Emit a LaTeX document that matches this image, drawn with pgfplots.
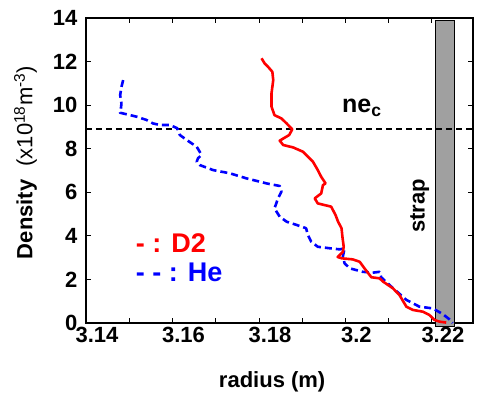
\documentclass[border=0pt]{standalone}
\usepackage{fontspec}
\setmainfont{Liberation Sans}
\usepackage{pgfplots}
\pgfplotsset{compat=1.18}
\definecolor{strapgray}{RGB}{160,160,160}
\begin{document}
\begin{tikzpicture}
\begin{axis}[
  scale only axis, width=387pt, height=305pt,
  at={(0,0)}, anchor=south west,
  xmin=3.14, xmax=3.2295, ymin=0, ymax=14,
  xtick={3.14,3.16,3.18,3.2,3.22},
  xticklabels={3.14,3.16,3.18,3.2,3.22},
  minor xtick={3.15,3.17,3.19,3.21},
  ytick={0,2,4,6,8,10,12,14},
  yticklabels={0,2,4,6,8,10,12,14},
  tick align=inside,
  major tick length=5pt, minor tick length=5pt,
  axis line style={line width=1.2pt},
  every tick/.style={line width=0.9pt, black},
  minor tick style={line width=0.9pt, black},
  ticklabel style={font=\fontsize{22}{25}\selectfont\bfseries},
  xticklabel style={xshift=11pt, yshift=-1pt},
  yticklabel style={xshift=-5pt},
  xlabel={\textbf{radius (m)}},
  xlabel style={font=\fontsize{22}{25}\selectfont, at={(axis description cs:0.481,-0.193)}, anchor=center},
  ylabel={\textbf{Density}\hspace{0.6em}(x10\textsuperscript{18}m\textsuperscript{-3})},
  ylabel style={font=\fontsize{22}{25}\selectfont, at={(axis description cs:-0.156,0.526)}, anchor=center},
  clip=false,
]
% strap
\addplot[draw=black, line width=1pt, fill=strapgray] coordinates {(3.2208,-0.14) (3.2252,-0.14) (3.2252,13.9) (3.2208,13.9)} -- cycle;
% critical density
\addplot[black, line width=2.2pt, dash pattern=on 6pt off 4pt] coordinates {(3.14,8.9) (3.2295,8.9)};
% He
\addplot[blue, line width=2.6pt, dash pattern=on 7pt off 4pt, line join=round] coordinates {
(3.1486,11.15) (3.1482,10.84) (3.1479,10.46) (3.1482,10.08) (3.1480,9.70) (3.1479,9.65)
(3.1494,9.58) (3.1517,9.47) (3.1540,9.32) (3.1555,9.16) (3.1571,9.09) (3.1594,9.09)
(3.1611,8.94) (3.1617,8.63) (3.1633,8.40) (3.1656,8.09) (3.1663,7.86) (3.1667,7.71)
(3.1659,7.56) (3.1656,7.40) (3.1663,7.25) (3.1694,7.02) (3.1733,6.87) (3.1771,6.64)
(3.1817,6.41) (3.1848,6.29) (3.1852,6.03) (3.1844,5.72) (3.1836,5.26) (3.1848,4.88)
(3.1864,4.65) (3.1887,4.50) (3.1909,4.35) (3.1913,4.04) (3.1921,3.73) (3.1936,3.50)
(3.1964,3.43) (3.1987,3.38) (3.1998,3.43) (3.1994,3.04) (3.1998,2.74) (3.2010,2.51)
(3.2040,2.35) (3.2063,2.31) (3.2079,2.35) (3.2083,2.09) (3.2106,1.67) (3.2141,1.06)
(3.2171,0.75) (3.2202,0.67) (3.2225,0.41) (3.2241,0.16) (3.2248,0.0)
};
% D2
\addplot[red, line width=2.6pt, line join=round] coordinates {
(3.1806,12.15) (3.1813,11.92) (3.1821,11.76) (3.1831,11.53) (3.1833,11.15) (3.1831,10.84)
(3.1829,10.54) (3.1829,9.93) (3.1836,9.54) (3.1852,9.39) (3.1864,9.16) (3.1877,8.89)
(3.1870,8.63) (3.1848,8.37) (3.1856,8.17) (3.1879,8.06) (3.1902,7.86) (3.1917,7.56)
(3.1925,7.40) (3.1936,7.02) (3.1944,6.71) (3.1954,6.41) (3.1948,6.33) (3.1944,5.95)
(3.1929,5.72) (3.1936,5.49) (3.1967,5.34) (3.1977,4.96) (3.1983,4.65) (3.1991,4.35)
(3.1993,3.96) (3.1996,3.50) (3.1994,3.26) (3.1982,3.03) (3.1991,2.97) (3.2017,2.92)
(3.2033,2.81) (3.2044,2.51) (3.2056,2.20) (3.2060,2.10) (3.2079,2.05) (3.2087,1.90)
(3.2110,1.59) (3.2125,1.28) (3.2141,0.75) (3.2156,0.60) (3.2179,0.52) (3.2194,0.37)
(3.2206,0.14) (3.2218,0.06) (3.2233,0.02)
};
\node[anchor=west, text=red, font=\fontsize{27}{30}\selectfont\bfseries] at (axis cs:3.1507,3.67) {- : D2};
\node[anchor=west, text=blue, font=\fontsize{27}{30}\selectfont\bfseries] at (axis cs:3.1507,2.34) {- - : He};
\node[font=\fontsize{25}{28}\selectfont\bfseries] at (axis cs:3.2038,9.87) {ne\textsubscript{c}};
\node[rotate=90, font=\fontsize{22}{25}\selectfont\bfseries] at (axis cs:3.2172,5.37) {strap};
\end{axis}
\pgfresetboundingbox
\path (-86pt,-77pt) rectangle (391pt,323pt);
\end{tikzpicture}
\end{document}
